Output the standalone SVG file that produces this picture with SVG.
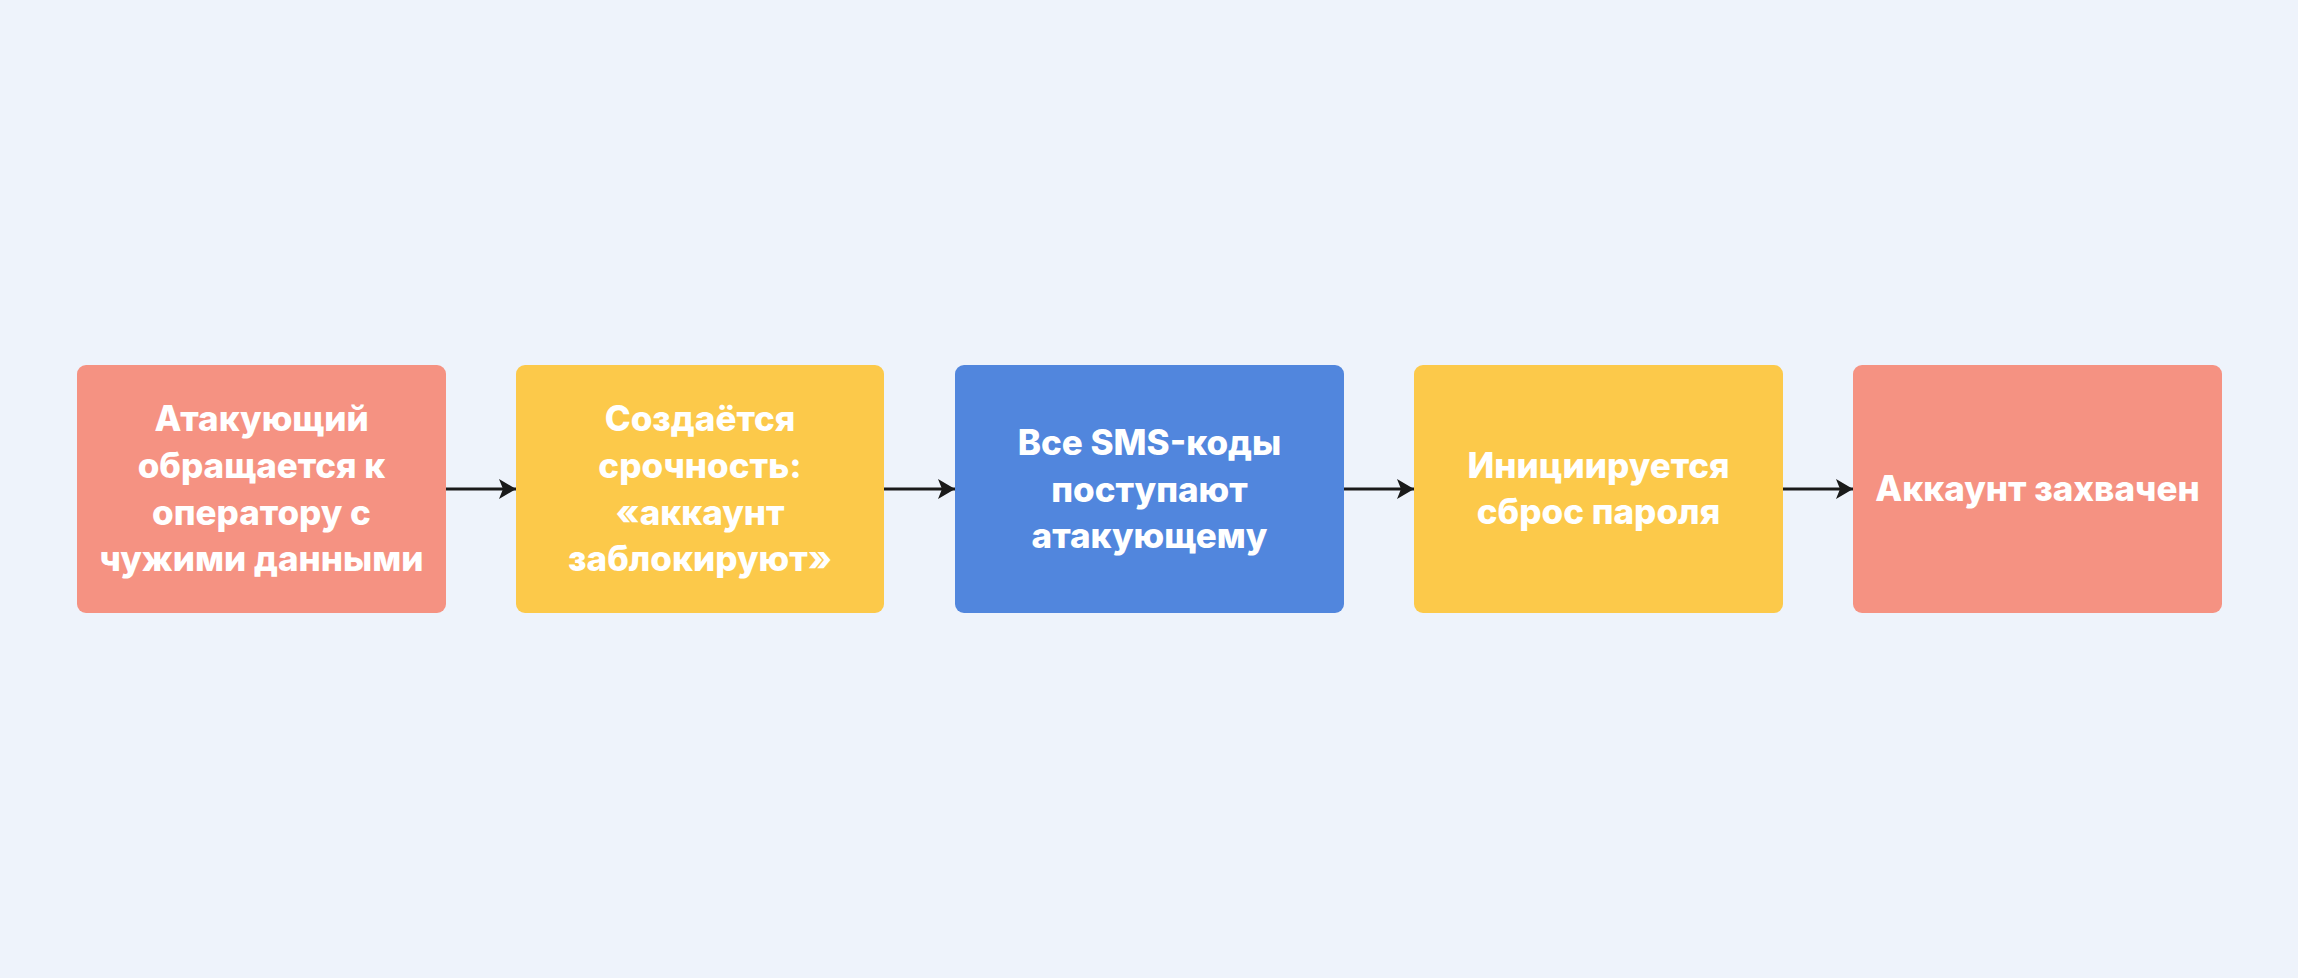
<svg xmlns="http://www.w3.org/2000/svg" width="2298" height="978" viewBox="0 0 2298 978">
<defs>
<style>
.bg{fill:#EEF3FB}
.n rect{rx:9px;ry:9px}
.red{fill:#F59282}
.yel{fill:#FCC94A}
.blu{fill:#5186DD}
.t{font-family:Inter,Roboto,"Liberation Sans",sans-serif;font-weight:800;font-size:35px;fill:#FFFFFF;text-anchor:middle}
.c line{stroke:#1A1A1A;stroke-width:3}
</style>
<marker id="ah" viewBox="0 0 17 20" refX="17" refY="10" markerWidth="17" markerHeight="20" markerUnits="userSpaceOnUse" orient="auto">
<path d="M0,0 L17,10 L0,20 L4,10 Z" fill="#1A1A1A"/>
</marker>
</defs>
<rect class="bg" x="0" y="0" width="2298" height="978"/>
<g id="connectors" class="c">
<line x1="446" y1="489" x2="516" y2="489" marker-end="url(#ah)"/>
<line x1="884" y1="489" x2="955" y2="489" marker-end="url(#ah)"/>
<line x1="1344" y1="489" x2="1414" y2="489" marker-end="url(#ah)"/>
<line x1="1783" y1="489" x2="1853" y2="489" marker-end="url(#ah)"/>
</g>
<g id="node1" class="n">
<rect class="red" x="77" y="365" width="369" height="248"/>
<text class="t" x="261.5" y="431">Атакующий</text>
<text class="t" x="261.5" y="478">обращается к</text>
<text class="t" x="261.5" y="524.7">оператору с</text>
<text class="t" x="261.5" y="571.3">чужими данными</text>
</g>
<g id="node2" class="n">
<rect class="yel" x="516" y="365" width="368" height="248"/>
<text class="t" x="700" y="431">Создаётся</text>
<text class="t" x="700" y="478">срочность:</text>
<text class="t" x="700" y="524.7">«аккаунт</text>
<text class="t" x="700" y="571.3">заблокируют»</text>
</g>
<g id="node3" class="n">
<rect class="blu" x="955" y="365" width="389" height="248"/>
<text class="t" x="1149.5" y="455">Все SMS-коды</text>
<text class="t" x="1149.5" y="501.7">поступают</text>
<text class="t" x="1149.5" y="548.3">атакующему</text>
</g>
<g id="node4" class="n">
<rect class="yel" x="1414" y="365" width="369" height="248"/>
<text class="t" x="1598.5" y="477.7">Инициируется</text>
<text class="t" x="1598.5" y="524.3">сброс пароля</text>
</g>
<g id="node5" class="n">
<rect class="red" x="1853" y="365" width="369" height="248"/>
<text class="t" x="2037.5" y="500.7">Аккаунт захвачен</text>
</g>
</svg>
